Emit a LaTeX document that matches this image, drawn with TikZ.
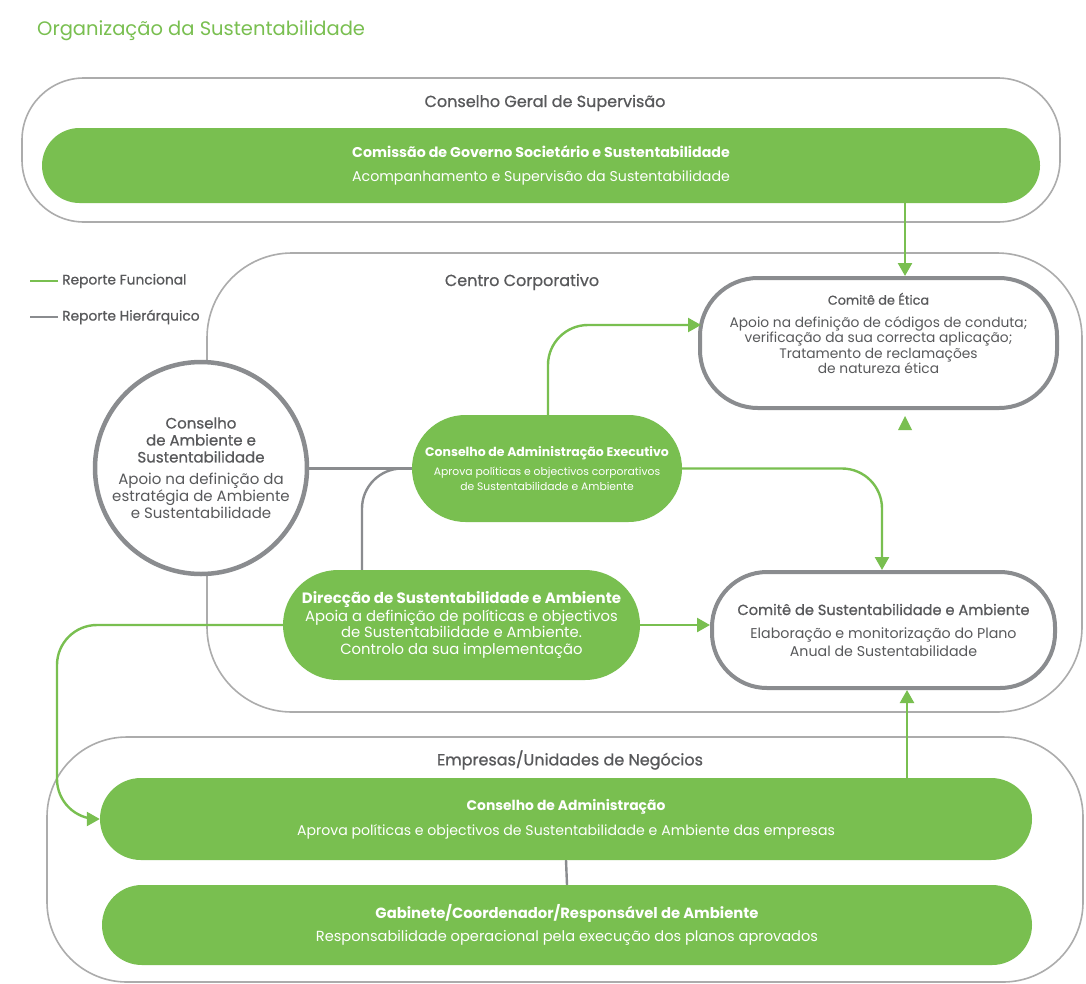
\documentclass[tikz,border=0pt]{standalone}
\usepackage{fontspec}
\setmainfont{Poppins}
\newfontfamily\medfont{Poppins}[FakeBold=0.8]
\usetikzlibrary{arrows.meta,calc}

\definecolor{leaf}{RGB}{121,191,80}
\definecolor{framegray}{RGB}{172,172,172}
\definecolor{boxgray}{RGB}{138,140,143}
\definecolor{txtgray}{RGB}{88,89,91}

\tikzset{
  outerframe/.style={draw=framegray, line width=1.6pt, rounded corners=#1},
  pill/.style={fill=leaf, text=white, align=center, inner sep=0pt, rounded corners=#1},
  greybox/.style={draw=boxgray, line width=4pt, fill=white, text=txtgray, align=center, inner sep=0pt, rounded corners=#1},
  label/.style={text=txtgray, inner sep=0pt},
  funct/.style={draw=leaf, line width=2.4pt},
  hier/.style={draw=boxgray, line width=2.4pt},
  tip/.style={-{Triangle[length=13pt,width=14pt]}},
  fs/.style 2 args={font=\fontsize{#1pt}{#2pt}\selectfont}
}
% title line inside a box: own size, then extra gap
\newcommand\hd[3]{{\fontsize{#1pt}{#1pt}\selectfont #3}\\[#2pt]}

\begin{document}
\begin{tikzpicture}[x=1pt,y=-1pt]
\useasboundingbox[fill=white] (0,0) rectangle (1086,983);

% heading
\node[anchor=west, text=leaf, inner sep=0pt, fs={19.5}{22}] (title) at (37,31) {Organização da Sustentabilidade};

% legend
\node[label, anchor=west, fs={13.8}{16}] (lgf) at (62,281) {\medfont Reporte Funcional};
\node[label, anchor=west, fs={13.8}{16}] (lgh) at (62,317) {\medfont Reporte Hierárquico};
\draw[funct, line width=2pt] (lgf.west) ++(-4,0) -- ++(-28,0);
\draw[hier, line width=2pt] (lgh.west) ++(-4,0) -- ++(-28,0);

% containers
\node[outerframe=62, minimum width=1038pt, minimum height=144pt] (cgs) at (541,150) {};
\node[outerframe=85, minimum width=875pt, minimum height=459pt] (cc) at (644.5,482.5) {};
\node[outerframe=80, minimum width=1036pt, minimum height=245pt] (emp) at (565,859.5) {};

\node[label, fs={16}{18}] (cgslbl) at (545,103) {\medfont Conselho Geral de Supervisão};
\node[label, fs={16}{18}] (cclbl) at (522,282) {\medfont Centro Corporativo};
\node[label, fs={16}{18}] (emplbl) at (570,760) {\medfont Empresas/Unidades de Negócios};

% supervisory board committee
\node[pill=37.5, minimum width=998pt, minimum height=75pt, fs={14.2}{17}] (cgss) at (541,165.5)
  {\textbf{Comissão de Governo Societário e Sustentabilidade}\\[7pt]Acompanhamento e Supervisão da Sustentabilidade};

% corporate centre
\node[greybox=58, minimum width=357pt, minimum height=130pt, fs={13.8}{15.5}] (etica) at (878.5,343)
  {\hd{12.8}{7}{\medfont Comitê de Ética}Apoio na definição de códigos de conduta;\\verificação da sua correcta aplicação;\\Tratamento de reclamações\\de natureza ética\\[4pt]};
\node[greybox=55, minimum width=343pt, minimum height=116pt, fs={14.2}{18}] (sust) at (883.5,630)
  {\hd{14.6}{5}{\medfont Comitê de Sustentabilidade e Ambiente}Elaboração e monitorização do Plano\\Anual de Sustentabilidade};
\node[circle, draw=boxgray, line width=4.5pt, fill=white, text=txtgray, align=center, inner sep=0pt,
      minimum size=212pt, fs={15}{17}] (cas) at (201,468)
  {\medfont Conselho\\\medfont de Ambiente e\\\medfont Sustentabilidade\\[5pt]Apoio na definição da\\estratégia de Ambiente\\e Sustentabilidade};
\node[pill=53.5, minimum width=270pt, minimum height=107pt, fs={10.8}{15}] (cae) at (547,468.5)
  {\hd{12.5}{4}{\bfseries Conselho de Administração Executivo}Aprova políticas e objectivos corporativos\\de Sustentabilidade e Ambiente};
\node[pill=55, minimum width=357pt, minimum height=110pt, fs={14.8}{16.5}] (dsa) at (461.5,625)
  {\hd{15}{1}{\bfseries Direcção de Sustentabilidade e Ambiente}Apoia a definição de políticas e objectivos\\de Sustentabilidade e Ambiente.\\Controlo da sua implementação};

% business units
\node[pill=41, minimum width=932pt, minimum height=82pt, fs={14.1}{17}] (ca) at (566,819)
  {\hd{13.9}{8}{\bfseries Conselho de Administração}Aprova políticas e objectivos de Sustentabilidade e Ambiente das empresas};
\node[pill=40, minimum width=930pt, minimum height=80pt, fs={14.6}{17}] (gab) at (567,925)
  {\hd{14.8}{6}{\bfseries Gabinete/Coordenador/Responsável de Ambiente}Responsabilidade operacional pela execução dos planos aprovados};

% connector anchor columns
\coordinate (xeth) at (905,0);
\coordinate (xcae) at (548,0);
\coordinate (xsus) at (882,0);
\coordinate (xdsa) at (362,0);
\coordinate (xca) at (907,0);
\coordinate (yeth) at (0,325);
\coordinate (xleft) at (57,0);

% hierarchical links
\draw[hier] (cas.east |- cae.west) -- (cae.west);
\draw[hier, rounded corners=40] (dsa.north -| xdsa) |- (cae.west);
\draw[hier] (ca.south) -- (gab.north);

% functional links
\draw[funct, tip] (cgss.south -| xeth) -- (etica.north -| xeth);
\draw[funct, tip, rounded corners=40] (cae.north -| xcae) |- ($(etica.west |- yeth)+(3,0)$);
\draw[funct, tip, rounded corners=40] (cae.east) -| (sust.north -| xsus);
\draw[funct, tip] (dsa.east) -- (sust.west |- dsa.east);
\draw[funct, tip, rounded corners=40] (dsa.west) -| (xleft |- ca.west) -- (ca.west);
\draw[funct, tip] (ca.north -| xca) -- (sust.south -| xca);
\fill[leaf] ($(etica.south -| xeth)+(0,6)$) -- ++(-7,14) -- ++(14,0) -- cycle;

\end{tikzpicture}
\end{document}
